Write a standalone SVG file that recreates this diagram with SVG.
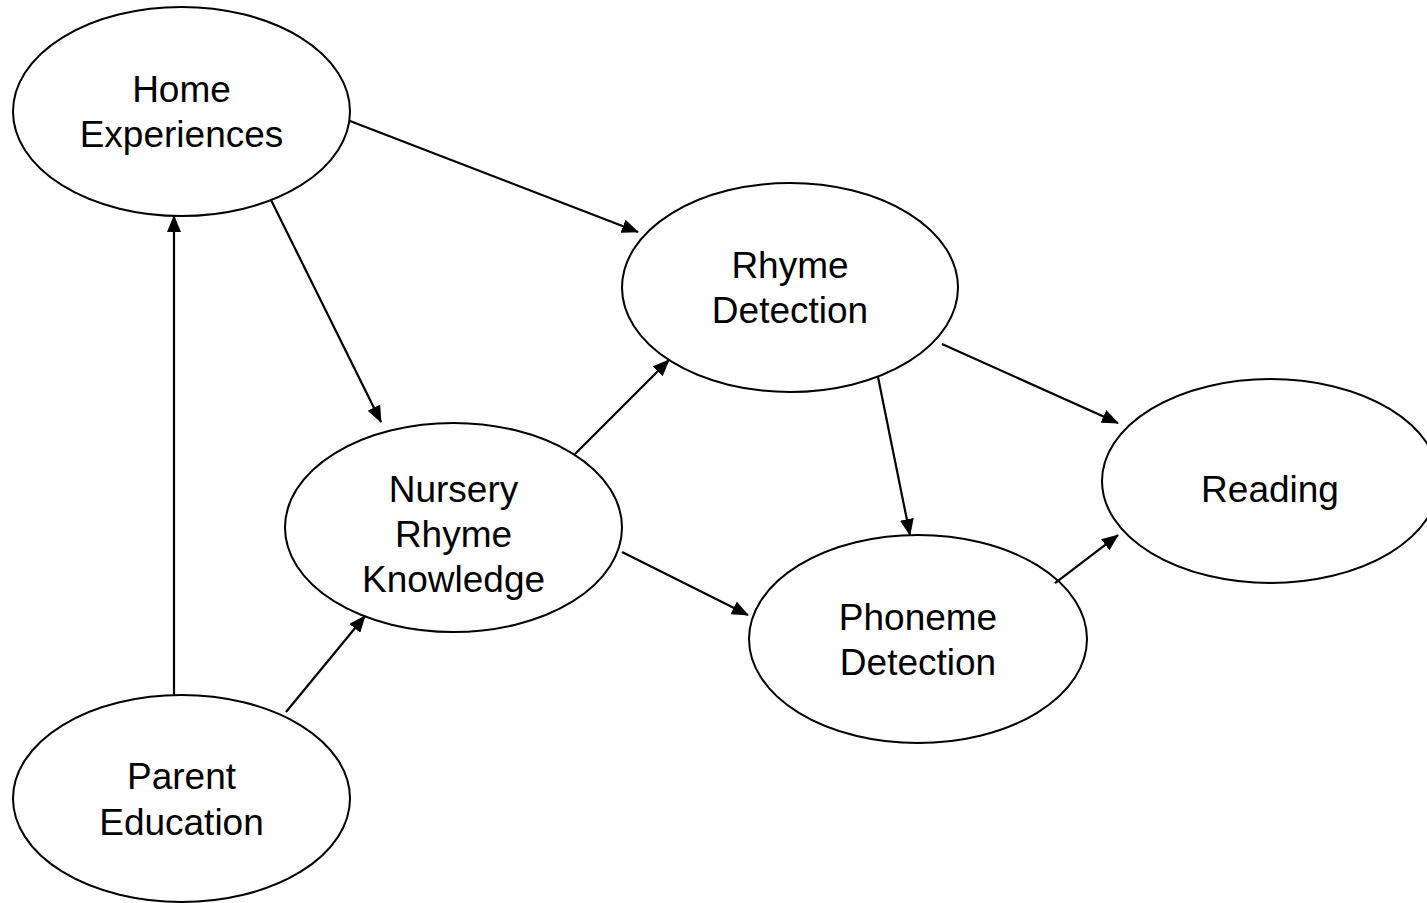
<svg xmlns="http://www.w3.org/2000/svg" width="1427" height="903" viewBox="0 0 1427 903">
<style>
.n ellipse{fill:#fff;stroke:#000;stroke-width:2}
.n text{font-family:"Liberation Sans",Arial,sans-serif;font-size:37px;fill:#000;text-anchor:middle}
.c line{stroke:#000;stroke-width:2.2;marker-end:url(#ah)}
</style>
<defs>
<marker id="ah" markerUnits="userSpaceOnUse" markerWidth="17" markerHeight="14" refX="16" refY="7" orient="auto">
<path d="M0,0 L17,7 L0,14 z" fill="#000"/>
</marker>
</defs>
<rect width="1427" height="903" fill="#fff"/>
<g id="home" class="n"><ellipse cx="181.5" cy="111.5" rx="168.5" ry="104.5"/><text x="181.5" y="101.7">Home</text><text x="181.5" y="146.7">Experiences</text></g>
<g id="rhyme" class="n"><ellipse cx="790" cy="287.5" rx="168" ry="104.5"/><text x="790" y="278.3">Rhyme</text><text x="790" y="323.3">Detection</text></g>
<g id="nursery" class="n"><ellipse cx="453.5" cy="527.5" rx="168.5" ry="104.5"/><text x="453.5" y="501.7">Nursery</text><text x="453.5" y="546.7">Rhyme</text><text x="453.5" y="591.7">Knowledge</text></g>
<g id="reading" class="n"><ellipse cx="1270.5" cy="481" rx="168.5" ry="102"/><text x="1270" y="501.7">Reading</text></g>
<g id="phoneme" class="n"><ellipse cx="918" cy="639" rx="169" ry="104"/><text x="918" y="630">Phoneme</text><text x="918" y="675">Detection</text></g>
<g id="parent" class="n"><ellipse cx="181.5" cy="798.5" rx="168.5" ry="103.5"/><text x="181.5" y="789.3">Parent</text><text x="181.5" y="835">Education</text></g>
<g id="connectors" class="c">
<line x1="350" y1="121" x2="638" y2="232"/>
<line x1="271" y1="200" x2="381" y2="422"/>
<line x1="174" y1="695" x2="174" y2="216"/>
<line x1="286" y1="712" x2="365" y2="616"/>
<line x1="575" y1="454" x2="669" y2="360"/>
<line x1="622" y1="552" x2="748" y2="615"/>
<line x1="942" y1="344" x2="1118" y2="423"/>
<line x1="878" y1="377" x2="910" y2="535"/>
<line x1="1055" y1="583" x2="1118" y2="535"/>
</g>
</svg>
